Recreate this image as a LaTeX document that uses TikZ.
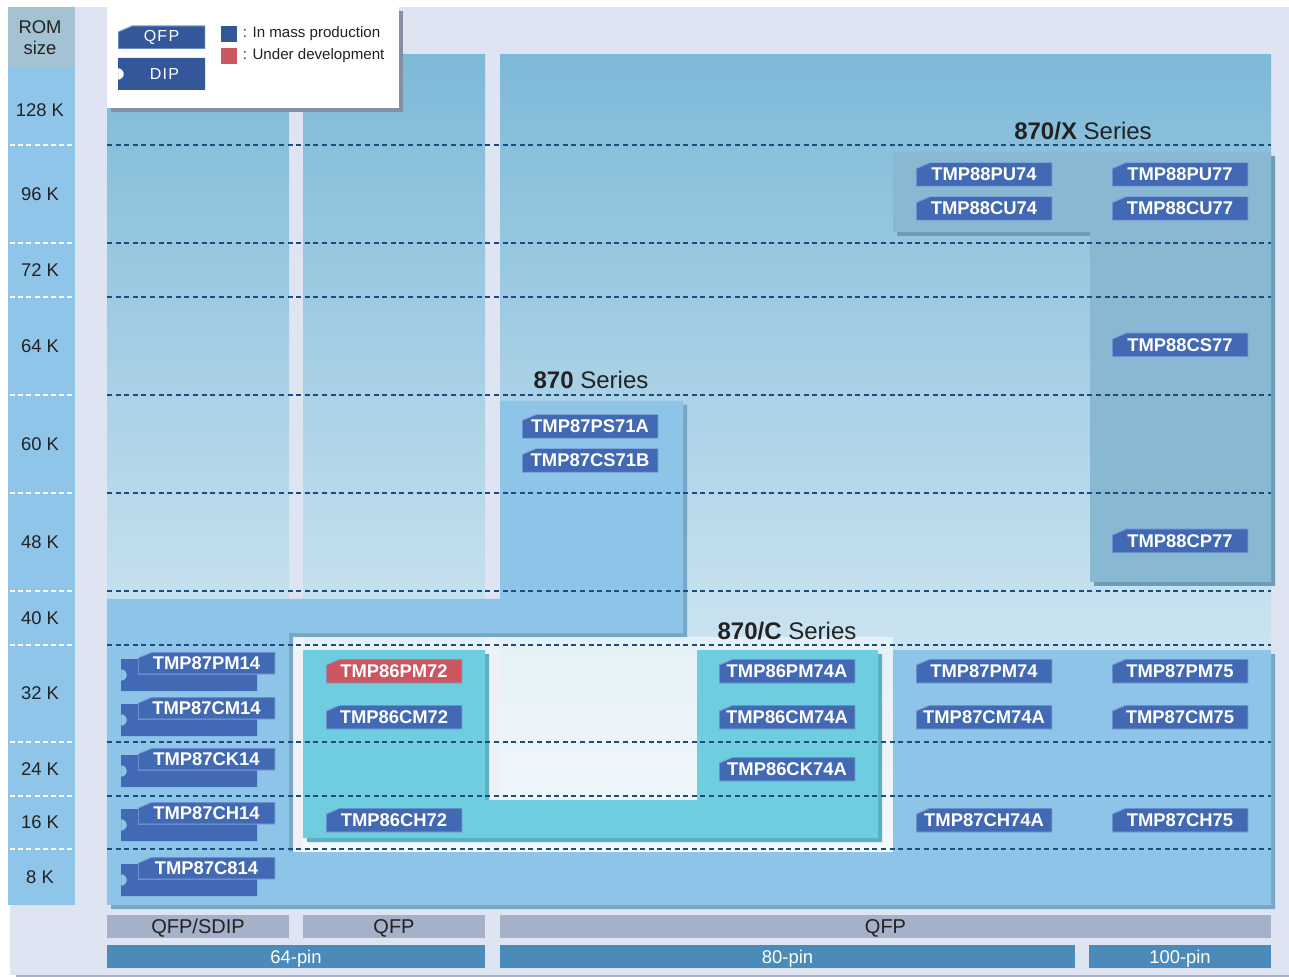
\documentclass[tikz,border=0pt]{standalone}
\usepackage{fontspec}
\setmainfont{Liberation Sans}
\usepackage{tikz}
\usetikzlibrary{positioning,calc}

\definecolor{bglav}{HTML}{DFE4F2}
\definecolor{romhead}{HTML}{A3C3D3}
\definecolor{axisblue}{HTML}{8FC5E9}
\definecolor{coltop}{HTML}{7DB9D8}
\definecolor{colbot}{HTML}{EEF6FB}
\definecolor{sbox}{HTML}{8EC4E8}
\definecolor{sshadow}{HTML}{78A7C6}
\definecolor{cbox}{HTML}{6FCDE0}
\definecolor{cshadow}{HTML}{5AAFC0}
\definecolor{xbox}{HTML}{88B8D2}
\definecolor{xshadow}{HTML}{6E9BB5}
\definecolor{chipblue}{HTML}{4169B4}
\definecolor{chipedge}{HTML}{7FA5D9}
\definecolor{devred}{HTML}{CC5660}
\definecolor{legblue}{HTML}{34579A}
\definecolor{legshadow}{HTML}{848EA4}
\definecolor{pkggray}{HTML}{A5B1C8}
\definecolor{pinblue}{HTML}{4A8BBA}
\definecolor{rowdash}{HTML}{1C4C80}
\definecolor{inkdark}{HTML}{222222}
\definecolor{botline}{HTML}{A8B3C8}

\begin{document}
\begin{tikzpicture}[x=0.5pt,y=-0.5pt,
    chip/.style={minimum width=68pt, minimum height=12pt, inner sep=0pt, text=white,
      font=\fontsize{9.2}{11}\selectfont\bfseries,
      path picture={\fill[#1, draw=chipedge, line width=0.5pt]
        (path picture bounding box.south west) -- ([yshift=-3pt]path picture bounding box.north west)
        -- ([xshift=7pt]path picture bounding box.north west) -- (path picture bounding box.north east)
        -- (path picture bounding box.south east) -- cycle;}},
    chip/.default=chipblue,
    dipbody/.style={minimum width=68pt, minimum height=16pt, inner sep=0pt,
      path picture={\fill[#1, even odd rule]
        (path picture bounding box.south west) rectangle (path picture bounding box.north east)
        (path picture bounding box.west) circle[radius=2.9pt];}},
    dipbody/.default=chipblue,
    axislbl/.style={font=\fontsize{9.2}{10.5}\selectfont, text=inkdark, inner sep=0pt},
    series/.style={font=\fontsize{12}{14}\selectfont, text=inkdark, inner sep=0pt},
    legtxt/.style={font=\fontsize{7.55}{9}\selectfont, text=inkdark, inner sep=0pt},
    legbadge/.style={text=white, font=\fontsize{8}{9}\selectfont\addfontfeatures{LetterSpace=8}},
    pkgbar/.style={fill=pkggray, minimum height=11.5pt, inner sep=0pt, text=inkdark,
      text height=7.2pt, text depth=0pt, font=\fontsize{10}{12}\selectfont},
    pinbar/.style={fill=pinblue, minimum height=11.5pt, inner sep=0pt, text=white,
      text height=6.6pt, text depth=0pt, font=\fontsize{9.2}{11}\selectfont},
    rowline/.style={rowdash, line width=0.6pt, dash pattern=on 2.5pt off 1.8pt},
    axisdash/.style={white, line width=0.6pt, dash pattern=on 2.5pt off 1.6pt}]

    \useasboundingbox (0,0) rectangle (1289,977);

    % page
    \fill[bglav] (10,7) rectangle (1289,975);
    \draw[botline, line width=1pt] (16,976) -- (1289,976);

    % ROM size axis
    \fill[romhead] (8,7) rectangle (75,68);
    \node[axislbl, align=center] (romsize) at (40,38) {ROM\\size};
    \fill[axisblue] (8,68) rectangle (75,905);
    \foreach \y in {145,243,297,395,493,591,645,742,796,849}
        \draw[axisdash] (10,\y) -- (73,\y);
    \foreach \y/\lbl [count=\i] in {110/128 K, 194/96 K, 270/72 K, 346/64 K, 444/60 K,
                                  542/48 K, 618/40 K, 693/32 K, 769/24 K, 822/16 K, 877/8 K}
        \node[axislbl] (rom\i) at (40,\y) {\lbl};

    % package columns
    \foreach \xa/\xb in {107/289, 303/485, 500/1271}
        \shade[top color=coltop, bottom color=colbot] (\xa,55) rectangle (\xb,905);

    % 870/X series
    \fill[xshadow, shift={(4,4)}] (893,152) -- (1271,152) -- (1271,582) -- (1090,582) -- (1090,232) -- (893,232) -- cycle;
    \fill[xbox] (893,152) -- (1271,152) -- (1271,582) -- (1090,582) -- (1090,232) -- (893,232) -- cycle;

    % 870 series
    \fill[sshadow, shift={(4,4)}] (107,599) -- (500,599) -- (500,401) -- (683,401) -- (683,633) -- (289,633)
        -- (289,852) -- (893,852) -- (893,650) -- (1271,650) -- (1271,905) -- (107,905) -- cycle;
    \fill[sbox] (107,599) -- (500,599) -- (500,401) -- (683,401) -- (683,633) -- (289,633)
        -- (289,852) -- (893,852) -- (893,650) -- (1271,650) -- (1271,905) -- (107,905) -- cycle;
    \fill[white, opacity=0.5] (293,637) rectangle (893,852);

    % 870/C series
    \fill[cshadow, shift={(4,4)}] (303,650) -- (485,650) -- (485,800) -- (697,800) -- (697,650)
        -- (878,650) -- (878,838) -- (303,838) -- cycle;
    \fill[cbox] (303,650) -- (485,650) -- (485,800) -- (697,800) -- (697,650)
        -- (878,650) -- (878,838) -- (303,838) -- cycle;

    % ROM rows
    \foreach \y in {145,243,297,395,493,591,645,742,796,849}
        \draw[rowline] (107,\y) -- (1271,\y);

    % series titles
    \node[series] (titlex) at (1083,131) {\textbf{870/X} Series};
    \node[series] (title870) at (591,380) {\textbf{870} Series};
    \node[series] (titlec) at (787,631) {\textbf{870/C} Series};

    % QFP parts
    \foreach \x/\y/\lbl in {984/174.5/TMP88PU74, 1180/174.5/TMP88PU77, 984/208.5/TMP88CU74,
                           1180/208.5/TMP88CU77, 1180/345/TMP88CS77, 1180/541/TMP88CP77,
                           590/426.5/TMP87PS71A, 590/460.5/TMP87CS71B,
                           394/717/TMP86CM72, 394/820/TMP86CH72,
                           787/671/TMP86PM74A, 787/717/TMP86CM74A, 787/769/TMP86CK74A,
                           984/671/TMP87PM74, 1180/671/TMP87PM75, 984/717/TMP87CM74A,
                           1180/717/TMP87CM75, 984/820/TMP87CH74A, 1180/820/TMP87CH75}
        \node[chip] (\lbl) at (\x,\y) {\lbl};
    \node[chip=devred] (TMP86PM72) at (394,671) {TMP86PM72};

    % QFP/SDIP parts
    \foreach \y/\lbl in {663/TMP87PM14, 708/TMP87CM14, 759/TMP87CK14, 813/TMP87CH14, 868/TMP87C814} {
        \node[dipbody] (\lbl-body) at (189,{\y+12}) {};
        \node[chip, minimum width=68.5pt, minimum height=11pt] (\lbl) at (206.5,\y) {\lbl};
    }

    % legend
    \fill[legshadow, shift={(4,4)}] (107,7) rectangle (399,108);
    \fill[white] (107,7) rectangle (399,108);
    \node[chip=legblue, minimum width=43.5pt, minimum height=11.5pt, legbadge] (legqfp) at (161.5,37.5) {QFP};
    \node[dipbody=legblue, minimum width=43.5pt, minimum height=16pt] (legdip) at (161.5,74) {};
    \node[legbadge, inner sep=0pt] (legdiptxt) at ([xshift=1.5pt]legdip.center) {DIP};
    \node[fill=legblue, minimum size=8pt, inner sep=0pt] (sqmass) at (229,34) {};
    \node[fill=devred, minimum size=8pt, inner sep=0pt] (sqdev) at (229,56) {};
    \node[legtxt, right=2.5pt of sqmass] (legmass) {: In mass production};
    \node[legtxt, right=2.5pt of sqdev] (legdev) {: Under development};

    % package and pin count
    \node[pkgbar, minimum width=91pt] (pkgsdip) at (198,926.5) {QFP/SDIP};
    \node[pkgbar, minimum width=91pt] (pkgqfpa) at (394,926.5) {QFP};
    \node[pkgbar, minimum width=385.5pt] (pkgqfpb) at (885.5,926.5) {QFP};
    \node[pinbar, minimum width=189pt] (pin64) at (296,956.5) {64-pin};
    \node[pinbar, minimum width=287.5pt] (pin80) at (787.5,956.5) {80-pin};
    \node[pinbar, minimum width=91pt] (pin100) at (1180,956.5) {100-pin};
\end{tikzpicture}
\end{document}
